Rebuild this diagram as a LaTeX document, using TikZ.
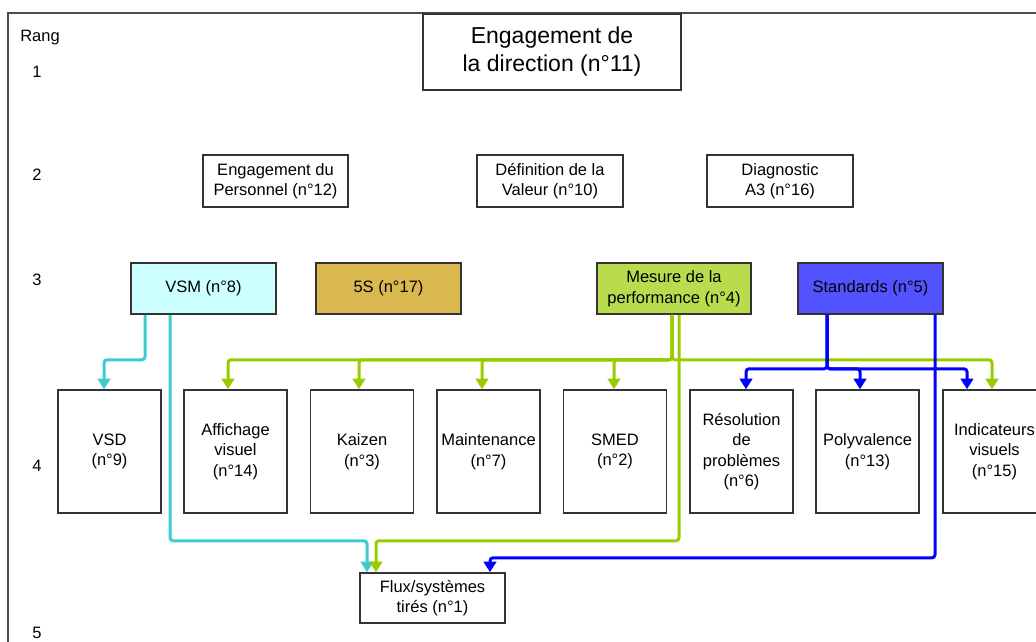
\documentclass[tikz,border=0pt]{standalone}
\usepackage{fontspec}
\setmainfont{Liberation Sans}
\usetikzlibrary{arrows.meta}

\definecolor{vsmfill}{HTML}{CCFFFF}
\definecolor{fivesfill}{HTML}{DBB84F}
\definecolor{mesurefill}{HTML}{B8DC4E}
\definecolor{stdfill}{HTML}{5252FF}
\definecolor{cyanline}{HTML}{3CCCCC}
\definecolor{greenline}{HTML}{99CC00}
\definecolor{blueline}{HTML}{0000FF}

\tikzset{
  box/.style={draw=black!80, line width=1.6pt, align=center, inner sep=0pt,
    font=\fontsize{16.5}{20.5}\selectfont},
  rowtwo/.style={box, minimum width=145, minimum height=52},
  rowthree/.style={box, minimum width=145, minimum height=51},
  rowfour/.style={box, minimum width=103, minimum height=123},
  rank/.style={font=\fontsize{16.5}{20}\selectfont},
  link/.style={line width=3pt, rounded corners=3pt, -{Triangle[width=12.5pt,length=10.5pt]}}
}

\begin{document}
\begin{tikzpicture}[x=1pt,y=-1pt]
\useasboundingbox (0,0) rectangle (1036,642);

%Frame
\draw[line width=1.4pt, black!70] (8,642) -- (8,13) -- (1036,13);

%Rang
\node[rank] (rang) at (40,38) {Rang};
\node[rank] (r1) at (37,72) {1};
\node[rank] (r2) at (37,175) {2};
\node[rank] (r3) at (37,280) {3};
\node[rank] (r4) at (37,466) {4};
\node[rank] (r5) at (37,633) {5};

%Rang 1
\node[box, minimum width=258, minimum height=76, font=\fontsize{23}{28}\selectfont] (direction) at (552,52) {Engagement de\\la direction (n°11)};

%Rang 2
\node[rowtwo] (personnel) at (275.5,181) {Engagement du\\Personnel (n°12)};
\node[rowtwo, minimum width=146] (valeur) at (550,181) {Définition de la\\Valeur (n°10)};
\node[rowtwo, minimum width=146] (diag) at (780,181) {Diagnostic\\A3 (n°16)};

%Rang 3
\node[rowthree, fill=vsmfill] (vsm) at (203.5,288.5) {VSM (n°8)};
\node[rowthree, fill=fivesfill] (fives) at (388.5,288.5) {5S (n°17)};
\node[rowthree, fill=mesurefill, minimum width=154] (mesure) at (674,288.5) {Mesure de la\\performance (n°4)};
\node[rowthree, fill=stdfill] (std) at (870.5,288.5) {Standards (n°5)};

%Rang 4
\node[rowfour] (vsd) at (109.5,451.5) {VSD\\(n°9)};
\node[rowfour] (affi) at (235.5,451.5) {Affichage\\visuel\\(n°14)};
\node[rowfour] (kaizen) at (362,451.5) {Kaizen\\(n°3)};
\node[rowfour] (maint) at (488.5,451.5) {Maintenance\\(n°7)};
\node[rowfour] (smed) at (615,451.5) {SMED\\(n°2)};
\node[rowfour] (resol) at (741.5,451.5) {Résolution\\de\\problèmes\\(n°6)};
\node[rowfour] (poly) at (867.5,451.5) {Polyvalence\\(n°13)};
\node[rowfour] (indic) at (994.5,451.5) {Indicateurs\\visuels\\(n°15)};

%Rang 5
\node[box, minimum width=145, minimum height=50] (flux) at (432.5,598) {Flux/systèmes\\tirés (n°1)};

%VSM
\draw[link, cyanline] ([xshift=-58.5pt]vsm.south) -- ++(0,45) -| ([xshift=-5.5pt]vsd.north);
\draw[link, cyanline] ([xshift=-33.5pt]vsm.south) -- ++(0,226) -| ([xshift=-65.5pt]flux.north);

%Mesure
\foreach \dest/\dx in {affi/-7.5, kaizen/-3, maint/-6.5, smed/-1, indic/-2.5}
  \draw[link, greenline] ([xshift=-2pt]mesure.south) -- ++(0,45) -| ([xshift=\dx pt]\dest.north);
\draw[link, greenline] ([xshift=5pt]mesure.south) -- ++(0,226) -| ([xshift=-56.5pt]flux.north);

%Standards
\foreach \dest/\dx in {resol/4.5, poly/-7.5, indic/-27.5}
  \draw[link, blueline] ([xshift=-43.5pt]std.south) -- ++(0,54) -| ([xshift=\dx pt]\dest.north);
\draw[link, blueline] ([xshift=64.5pt]std.south) -- ++(0,243) -| ([xshift=57.5pt]flux.north);
\end{tikzpicture}
\end{document}
